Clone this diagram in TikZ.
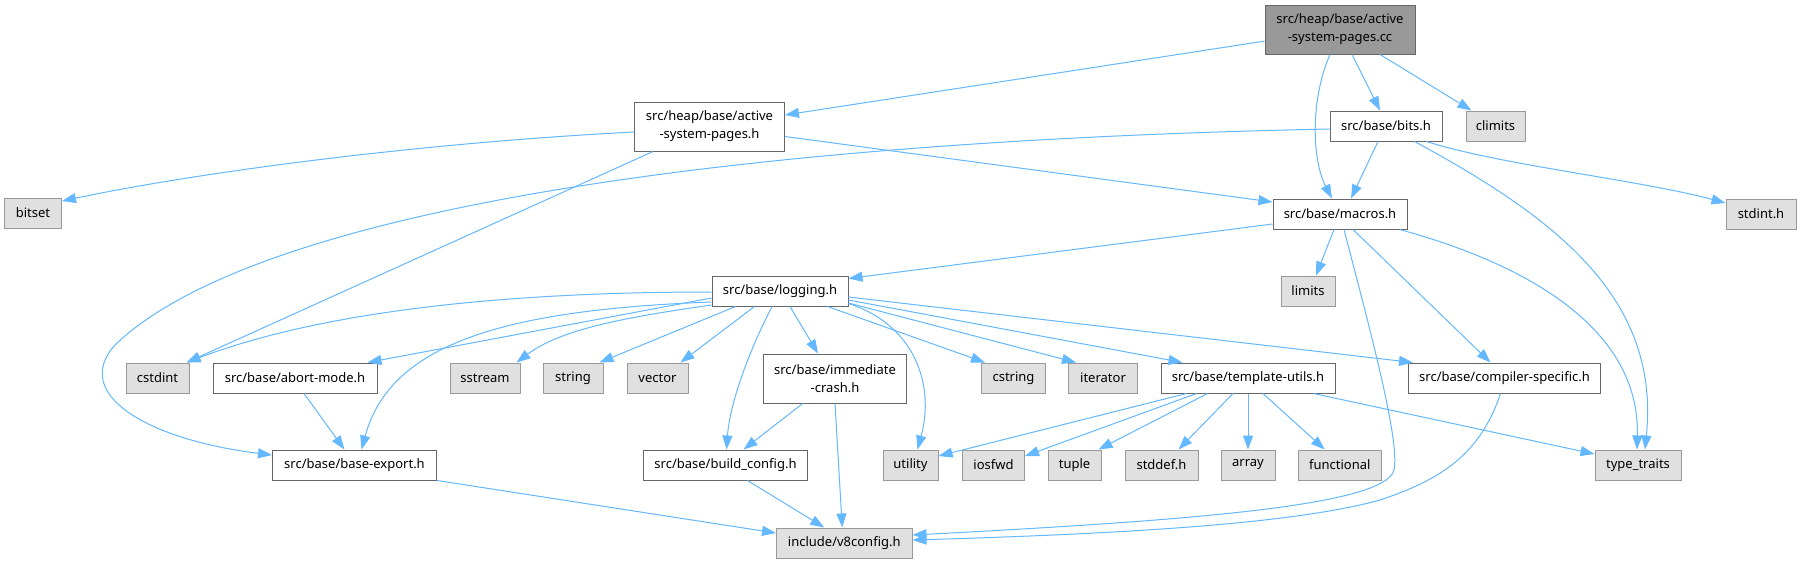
\documentclass[tikz,border=0pt]{standalone}
\usepackage{fontspec}
\setmainfont{Noto Sans}
\usetikzlibrary{arrows.meta,calc}
\definecolor{edgec}{HTML}{63B8FF}
\definecolor{sysfill}{HTML}{E0E0E0}
\definecolor{sysdraw}{HTML}{999999}
\definecolor{boxdraw}{HTML}{666666}
\definecolor{rootfill}{HTML}{999999}
\tikzset{
  basebox/.style={rectangle, inner sep=0pt, line width=1pt, align=center,
    font=\fontsize{13}{18}\selectfont, minimum height=30pt},
  filebox/.style={basebox, draw=boxdraw, fill=white},
  sysbox/.style={basebox, draw=sysdraw, fill=sysfill},
  rootbox/.style={basebox, draw=boxdraw, fill=rootfill},
  twoline/.style={minimum height=49pt},
  dep/.style={draw=edgec, line width=1pt, -{Triangle[length=14pt,width=10pt]}}
}
\begin{document}
\begin{tikzpicture}[x=1pt,y=-1pt]
\useasboundingbox (0,0) rectangle (1801,563);
\fill[white] (0,0) rectangle (1801,563);

% row 0
\node[rootbox, twoline, minimum width=150] (cc) at (1340,29.5) {src/heap/base/active\\-system-pages.cc};
% row 1
\node[filebox, twoline, minimum width=150] (ash) at (709.5,126.5) {src/heap/base/active\\-system-pages.h};
\node[filebox, minimum width=112] (bits) at (1386,126) {src/base/bits.h};
\node[sysbox, minimum width=59] (climits) at (1495.5,126) {climits};
% row 2
\node[sysbox, minimum width=57] (bitset) at (33,213) {bitset};
\node[filebox, minimum width=134] (macros) at (1340,214) {src/base/macros.h};
\node[sysbox, minimum width=70] (stdint) at (1761,214) {stdint.h};
% row 3
\node[filebox, minimum width=136] (logging) at (780,291) {src/base/logging.h};
\node[sysbox, minimum width=54] (limits) at (1308,291) {limits};
% row 4
\node[sysbox, minimum width=63] (cstdint) at (157.5,378) {cstdint};
\node[filebox, minimum width=164] (abort) at (295,378) {src/base/abort-mode.h};
\node[sysbox, minimum width=70] (sstream) at (485,378) {sstream};
\node[sysbox, minimum width=60] (string) at (573,378) {string};
\node[sysbox, minimum width=61] (vector) at (657.5,378) {vector};
\node[filebox, twoline, minimum width=143.5] (imm) at (835,378.5) {src/base/immediate\\-crash.h};
\node[sysbox, minimum width=64] (cstring) at (1013.5,378) {cstring};
\node[sysbox, minimum width=69] (iterator) at (1103,378) {iterator};
\node[filebox, minimum width=174] (tmpl) at (1248,378) {src/base/template-utils.h};
\node[filebox, minimum width=192] (comp) at (1504.5,378) {src/base/compiler-specific.h};
% row 5
\node[filebox, minimum width=164] (bexp) at (354.5,465) {src/base/base-export.h};
\node[filebox, minimum width=164] (bcfg) at (725.5,465) {src/base/build\_config.h};
\node[sysbox, minimum width=55] (utility) at (910.5,465) {utility};
\node[sysbox, minimum width=62] (iosfwd) at (993.5,465) {iosfwd};
\node[sysbox, minimum width=53] (tuple) at (1074.5,465) {tuple};
\node[sysbox, minimum width=73] (stddef) at (1161.5,465) {stddef.h};
\node[sysbox, minimum width=54] (array) at (1248,465) {array};
\node[sysbox, minimum width=82.5] (functional) at (1339.75,465) {functional};
\node[sysbox, minimum width=86] (typetraits) at (1638,465) {type\_traits};
% row 6
\node[sysbox, minimum width=135.5] (v8) at (844.25,543) {include/v8config.h};

% edges from cc
\draw[dep] (cc) -- (ash);
\draw[dep] ($(cc.south)+(-10,0)$) .. controls (1310,100) and (1312,160) .. ($(macros.north)+(-8,0)$);
\draw[dep] ($(cc.south)+(12,0)$) -- ($(bits.north)+(-6,0)$);
\draw[dep] ($(cc.south)+(40,0)$) -- ($(climits.north)+(-24,0)$);

% edges from ash
\draw[dep] ($(ash.west)+(0,5.5)$) .. controls (420,143) and (200,172) .. ($(bitset.east)+(0,-12)$);
\draw[dep] ($(ash.south west)+(19,0)$) -- ($(cstdint.north east)+(-3,0)$);
\draw[dep] ($(ash.east)+(0,10)$) -- ($(macros.west)+(0,-12)$);

% edges from bits
\draw[dep] ($(bits.west)+(0,3)$) .. controls (700,142) and (250,215) .. (115,345)
   .. controls (70,395) and (150,440) .. ($(bexp.west)+(0,-10)$);
\draw[dep] ($(bits.south)+(-8,0)$) -- ($(macros.north)+(11,0)$);
\draw[dep] ($(bits.south east)+(-16,0)$) .. controls (1500,165) and (1640,180) .. ($(stdint.west)+(0,-11)$);
\draw[dep] ($(bits.south east)+(-28,0)$) .. controls (1560,220) and (1660,300) .. ($(typetraits.north)+(7,0)$);

% edges from macros
\draw[dep] ($(macros.west)+(0,10)$) -- ($(logging.north east)+(0,3)$);
\draw[dep] ($(macros.south)+(-6,0)$) -- ($(limits.north)+(8,0)$);
\draw[dep] ($(macros.south)+(4,0)$) .. controls (1370,330) and (1400,440) .. (1394,470)
   .. controls (1385,505) and (1200,520) .. ($(v8.east)+(0,-8)$);
\draw[dep] ($(macros.south)+(13,0)$) -- ($(comp.north)+(-14,0)$);
\draw[dep] ($(macros.south east)+(-8,0)$) .. controls (1530,265) and (1640,330) .. ($(typetraits.north)+(-1,0)$);

% edges from logging
\draw[dep] ($(logging.west)+(0,1)$) .. controls (500,292) and (320,312) .. ($(cstdint.north east)+(-3,0)$);
\draw[dep] ($(logging.west)+(0,7)$) -- ($(abort.north east)+(-10,0)$);
\draw[dep] ($(logging.west)+(0,11)$) .. controls (500,310) and (390,345) .. ($(bexp.north)+(7,0)$);
\draw[dep] ($(logging.west)+(0,14)$) .. controls (620,318) and (560,330) .. ($(sstream.north east)+(-4,0)$);
\draw[dep] ($(logging.south west)+(24,0)$) -- ($(string.north east)+(-4,0)$);
\draw[dep] ($(logging.south west)+(43,0)$) -- ($(vector.north east)+(-8,0)$);
\draw[dep] ($(logging.south)+(-8,0)$) .. controls (752,345) and (730,400) .. ($(bcfg.north)+(1,0)$);
\draw[dep] ($(logging.south)+(10,0)$) -- ($(imm.north)+(-17,0)$);
\draw[dep] ($(logging.south east)+(0,-3)$) .. controls (915,325) and (935,385) .. ($(utility.north)+(7,0)$);
\draw[dep] ($(logging.south east)+(-21,0)$) -- ($(cstring.north west)+(4,0)$);
\draw[dep] ($(logging.east)+(0,12)$) -- ($(iterator.north west)+(8,0)$);
\draw[dep] ($(logging.east)+(0,9)$) -- ($(tmpl.north west)+(22,0)$);
\draw[dep] ($(logging.east)+(0,6)$) -- ($(comp.north west)+(5,0)$);

% other edges
\draw[dep] ($(abort.south)+(9,0)$) -- ($(bexp.north)+(-10,0)$);
\draw[dep] ($(imm.south west)+(40,0)$) -- ($(bcfg.north)+(18,0)$);
\draw[dep] (imm.south) -- ($(v8.north)+(-2,0)$);
\draw[dep] (bexp.south east) -- ($(v8.west)+(0,-10)$);
\draw[dep] ($(bcfg.south)+(22,0)$) -- ($(v8.north)+(-20,0)$);

% template-utils
\draw[dep] ($(tmpl.south west)+(26,0)$) -- ($(utility.east)+(0,-9)$);
\draw[dep] ($(tmpl.south west)+(36,0)$) -- ($(iosfwd.east)+(0,-9)$);
\draw[dep] ($(tmpl.south west)+(47,0)$) -- ($(tuple.north east)+(-3,0)$);
\draw[dep] ($(tmpl.south)+(-15,0)$) -- ($(stddef.north east)+(-20,0)$);
\draw[dep] (tmpl.south) -- (array.north);
\draw[dep] ($(tmpl.south)+(15,0)$) -- ($(functional.north)+(-15,0)$);
\draw[dep] ($(tmpl.south east)+(-22,0)$) -- ($(typetraits.west)+(0,-11)$);

% compiler-specific
\draw[dep] ($(comp.south)+(-4,0)$) .. controls (1480,455) and (1440,480) .. (1380,500)
   .. controls (1300,522) and (1150,533) .. ($(v8.east)+(0,-3)$);
\end{tikzpicture}
\end{document}
